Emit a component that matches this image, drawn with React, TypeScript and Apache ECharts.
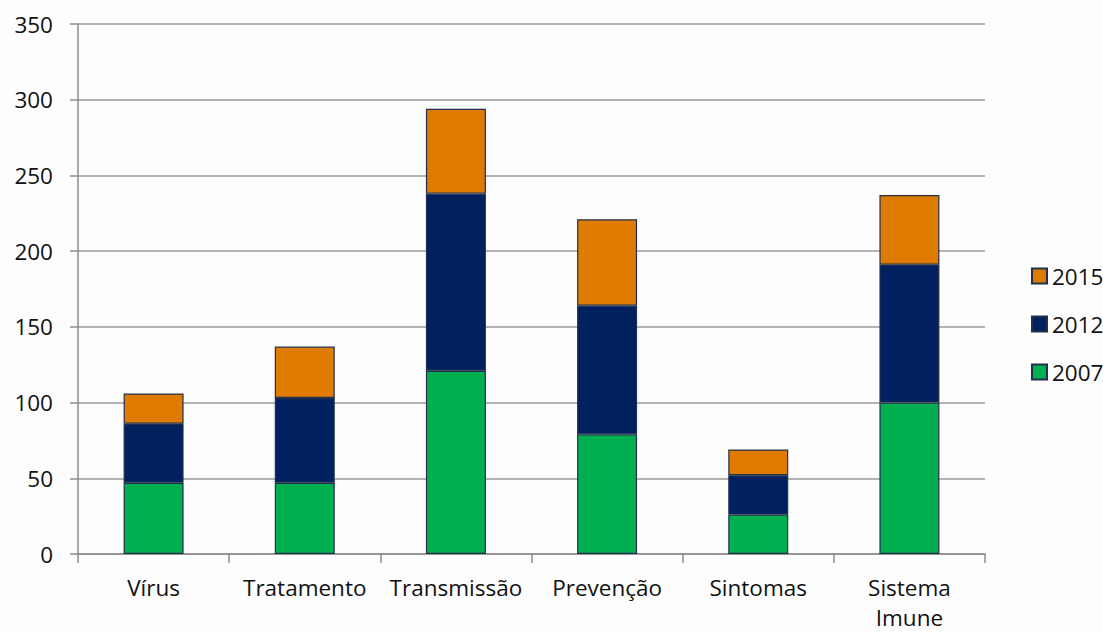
import React, { useEffect, useRef } from "react";
import * as echarts from "echarts";

// Categories along the x axis
const categories = ["Vírus", "Tratamento", "Transmissão", "Prevenção", "Sintomas", "Sistema\nImune"];

// Stacked values per year
const values2007 = [47, 47, 121, 79, 26, 100];
const values2012 = [39, 56, 117, 85, 26, 91];
const values2015 = [20, 34, 56, 57, 17, 46];

const legendOrder = ["2015", "2012", "2007"];

const FONT = "'Open Sans', 'Noto Sans', sans-serif";
const FONT_SIZE = 22.5;

export default function App() {
  const ref = useRef<HTMLDivElement>(null);

  useEffect(() => {
    if (!ref.current) return;
    const chart = echarts.init(ref.current, undefined, { renderer: "svg" });
    const barBorder = { borderColor: "#22304e", borderWidth: 1.2 };
    const mk = (name: string, data: number[], color: string) => ({
      name,
      type: "bar",
      stack: "total",
      barWidth: 60,
      data,
      itemStyle: { color, ...barBorder },
    });
    chart.setOption({
      animation: false,
      backgroundColor: "#fdfdfd",
      grid: { left: 78, right: 118, top: 24, bottom: 72, containLabel: false },
      legend: {
        orient: "vertical",
        left: 1026,
        top: 259,
        data: legendOrder,
        itemWidth: 15,
        itemHeight: 15,
        itemGap: 24,
        icon: "rect",
        textStyle: { fontFamily: FONT, fontSize: FONT_SIZE, lineHeight: 24, color: "#111" },
      },
      xAxis: {
        type: "category",
        data: categories,
        axisLine: { lineStyle: { color: "#8c8c8c", width: 1.5 } },
        axisTick: { show: true, length: 9, lineStyle: { color: "#8c8c8c", width: 1.5 } },
        axisLabel: {
          fontFamily: FONT,
          fontSize: FONT_SIZE,
          color: "#111",
          margin: 18,
          lineHeight: 30,
          interval: 0,
        },
      },
      yAxis: {
        type: "value",
        min: 0,
        max: 350,
        interval: 50,
        axisLine: { show: true, lineStyle: { color: "#8c8c8c", width: 1.5 } },
        axisTick: { show: true, length: 8, lineStyle: { color: "#8c8c8c", width: 1.5 } },
        splitLine: { lineStyle: { color: "#9a9a9a", width: 1.5 } },
        axisLabel: { fontFamily: FONT, fontSize: FONT_SIZE, color: "#111", margin: 25 },
      },
      series: [
        mk("2007", values2007, "#00b050"),
        mk("2012", values2012, "#002060"),
        mk("2015", values2015, "#de7b00"),
      ],
    });
    return () => chart.dispose();
  }, []);

  return (
    <div
      ref={ref}
      style={{ position: "absolute", left: 0, top: 0, width: 1103, height: 632 }}
    />
  );
}
